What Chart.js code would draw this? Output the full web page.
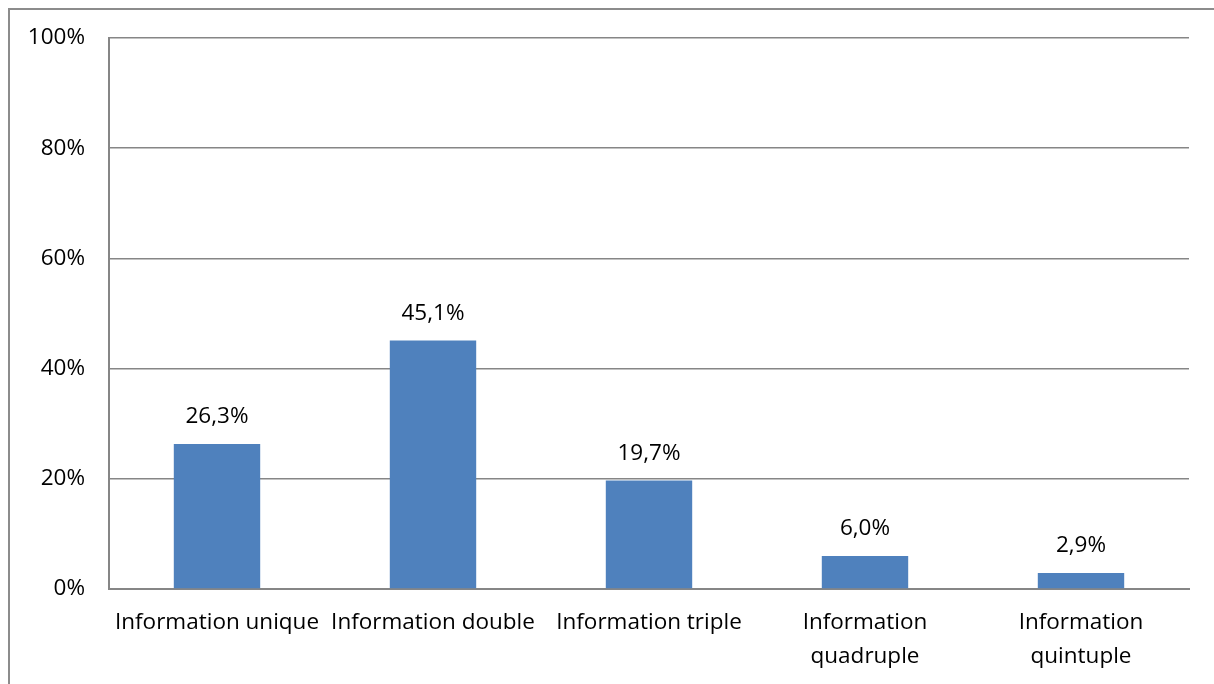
<!DOCTYPE html>
<html>
<head>
<meta charset="utf-8">
<script src="https://cdn.jsdelivr.net/npm/chart.js@4"></script>
<style>
  html, body { margin: 0; padding: 0; background: #fff; overflow: hidden; }
  #frame {
    position: absolute; left: 8px; top: 8px; width: 1400px; height: 900px;
    border-left: 2px solid #8c8c8c; border-top: 2px solid #8c8c8c;
  }
  #wrap { position: absolute; left: 0; top: 0; width: 1214px; height: 684px; }
</style>
</head>
<body>
<div id="frame"></div>
<div id="wrap"><canvas id="chart"></canvas></div>
<script>
// Categories and values
const categories = [
  'Information unique',
  'Information double',
  'Information triple',
  ['Information', 'quadruple'],
  ['Information', 'quintuple']
];
const shares = [26.3, 45.1, 19.7, 6.0, 2.9];
const yTicks = [0, 20, 40, 60, 80, 100];

const font = { family: "'Open Sans', Calibri, sans-serif", size: 22.5, lineHeight: 1.5 };

// Draws the value above each bar, French decimal comma
const valueLabels = {
  id: 'valueLabels',
  afterDatasetsDraw(chart) {
    const ctx = chart.ctx;
    const meta = chart.getDatasetMeta(0);
    ctx.save();
    ctx.font = font.size + 'px ' + font.family;
    ctx.fillStyle = '#000';
    ctx.textAlign = 'center';
    ctx.textBaseline = 'middle';
    meta.data.forEach((bar, i) => {
      const txt = shares[i].toFixed(1).replace('.', ',') + '%';
      ctx.fillText(txt, bar.x, bar.y - 27);
    });
    ctx.restore();
  }
};

new Chart(document.getElementById('chart'), {
  type: 'bar',
  data: {
    labels: categories,
    datasets: [{
      data: shares,
      backgroundColor: '#4f81bd',
      borderWidth: 0,
      barPercentage: 0.8,
      categoryPercentage: 0.5
    }]
  },
  options: {
    responsive: true,
    maintainAspectRatio: false,
    animation: false,
    layout: { padding: { top: 38, right: 25, left: 0, bottom: 0 } },
    plugins: { legend: { display: false }, tooltip: { enabled: false } },
    scales: {
      x: {
        grid: { display: false },
        border: { display: true, color: '#868686', width: 2 },
        ticks: { color: '#000', font: font, padding: 9, maxRotation: 0, autoSkip: false },
        afterFit(scale) { scale.height = 95; }
      },
      y: {
        min: 0,
        max: 100,
        afterBuildTicks(scale) { scale.ticks = yTicks.map(v => ({ value: v })); },
        grid: { color: '#868686', lineWidth: 1.5, drawTicks: false },
        border: { display: true, color: '#868686', width: 2 },
        ticks: { color: '#000', font: font, padding: 24, callback: v => v + '%' },
        afterFit(scale) { scale.width = 109; scale.paddingTop = 0; scale.paddingBottom = 0; }
      }
    }
  },
  plugins: [valueLabels]
});
</script>
</body>
</html>
